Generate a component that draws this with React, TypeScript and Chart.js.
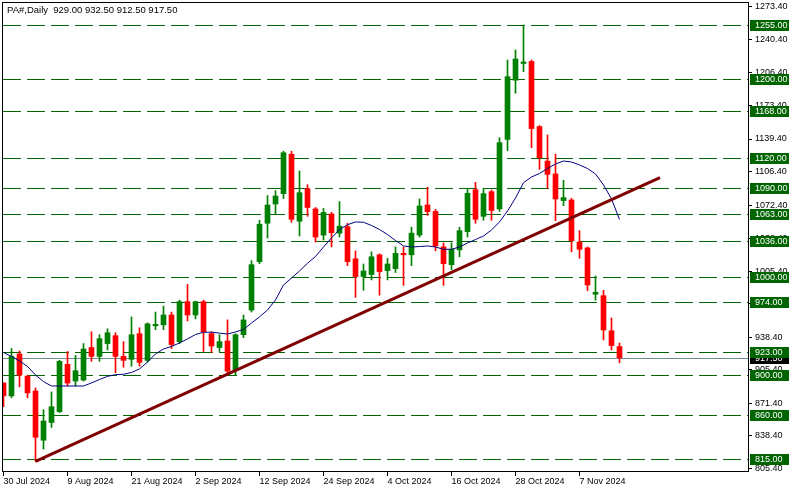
import React, { useEffect, useRef } from 'react';
import { Chart, registerables } from 'chart.js';

Chart.register(...registerables);

// ---- Data (daily candles, 30 Jul 2024 .. 14 Nov 2024) ----
const opens = [892, 879, 921.5, 899, 884, 834, 852, 863, 911, 894,
  895, 928, 919, 932, 940, 919, 916, 942, 915, 950,
  951, 961, 934, 974.5, 961, 974.5, 942, 928, 934.6, 905,
  941, 966, 1015, 1054, 1073.5, 1084, 1124, 1056, 1089, 1068.5,
  1042, 1063.4, 1044, 1050.5, 1018, 1000, 1002, 1022, 1006, 1008,
  1023.5, 1022, 1042, 1072.5, 1066, 1030, 1012, 1027, 1045.5, 1088,
  1061, 1086, 1068.5, 1139, 1199, 1216, 1218, 1152, 1117, 1104,
  1077, 1077.6, 1035, 1029, 982, 980.6, 945, 929];
const highs = [892.5, 927, 924.5, 900, 887, 865, 883, 915, 924, 920,
  932, 944, 941, 947, 943, 934, 959, 948, 953, 964,
  970, 964, 976, 992, 975, 976, 944, 941, 956, 942,
  961, 1016, 1057, 1082, 1087, 1127, 1127, 1107, 1093, 1070,
  1069, 1065, 1076, 1054, 1026, 1012.7, 1025, 1023, 1018.5, 1030,
  1030, 1050, 1078.6, 1090.5, 1068, 1034, 1034, 1050, 1089.5, 1095.5,
  1089.5, 1087.7, 1140.7, 1219.5, 1229.7, 1255, 1219.5, 1153, 1143.5, 1124,
  1097.6, 1079.3, 1046.5, 1030, 1000.5, 986, 958, 932.5];
const lows = [868, 877, 888, 877, 812.5, 825, 847, 862, 889, 889,
  894, 914, 914, 925.5, 902.5, 908, 909, 909, 913, 946,
  946, 927, 932, 955, 957, 924, 923, 924, 902, 900,
  938, 964, 1013, 1039, 1063, 1079, 1055, 1041, 1061, 1035,
  1037, 1030, 1040, 1011, 979, 986, 996.5, 981, 996.5, 1004,
  991, 1011, 1040, 1062, 1026, 991, 1007, 1020, 1040, 1054,
  1057, 1057, 1066, 1127.6, 1185.8, 1207.7, 1130.6, 1108.7, 1089.5, 1056.6,
  1071.8, 1025, 1018.5, 985.6, 976, 935.7, 925.5, 912.5];
const closes = [879, 919, 900, 882, 837, 853.5, 868, 914, 892, 904.5,
  926.5, 919, 937, 943, 919, 915, 941, 913, 952, 951.5,
  961, 931, 974.5, 961, 974.5, 944, 929.5, 934, 904, 941,
  956, 1012, 1053, 1072.5, 1081.6, 1125.5, 1058, 1085, 1070, 1040,
  1065, 1044.4, 1051, 1015, 1000, 1005.6, 1020, 1005, 1012.7, 1023.5,
  1022, 1044, 1071.5, 1065.7, 1031, 1013, 1027.6, 1046.5, 1084.4, 1058,
  1084, 1067, 1135.7, 1202.6, 1220.5, 1217.5, 1150, 1120.5, 1103.6, 1078.6,
  1080, 1036.3, 1027.6, 991.4, 984, 945.8, 930, 917.5];

// moving average line
const maValues = [923.0, 919.0, 914.4, 908.8, 900.2, 893.4, 889.0, 889.0, 889.0, 889.0,
  889.0, 892.1, 895.6, 898.7, 900.5, 900.9, 902.7, 906.3, 913.3, 921.5,
  926.5, 929.1, 932.6, 936.7, 941.2, 943.5, 943.5, 942.6, 941.7, 943.8,
  946.3, 952.9, 959.0, 966.1, 976.2, 991.4, 998.5, 1005.6, 1013.4, 1020.3,
  1029.9, 1039.1, 1047.7, 1052.5, 1055.3, 1055.0, 1051.7, 1047.7, 1042.6, 1036.5,
  1031.0, 1029.9, 1030.4, 1031.0, 1029.9, 1027.6, 1027.6, 1029.9, 1034.0, 1037.5,
  1041.1, 1047.2, 1055.3, 1066.4, 1079.6, 1095.1, 1100.9, 1104.5, 1109.5, 1114.1,
  1117.1, 1116.1, 1113.1, 1109.5, 1104.0, 1092.8, 1078.6, 1057.8];

const xTickIndex = [0, 8, 16, 24, 32, 40, 48, 56, 64, 72];
const xTickLabels = ['30 Jul 2024', '9 Aug 2024', '21 Aug 2024', '2 Sep 2024', '12 Sep 2024',
  '24 Sep 2024', '4 Oct 2024', '16 Oct 2024', '28 Oct 2024', '7 Nov 2024'];
const yTickValues = [1273.4, 1240.4, 1206.4, 1173.4, 1139.4, 1106.4, 1072.4, 1038.4,
  1005.4, 972.4, 938.4, 905.4, 871.4, 838.4, 805.4];
const levels = [1255, 1200, 1168, 1120, 1090, 1063, 1036, 1000, 974, 923, 900, 860, 815];
const trendX = [4, 82.06];
const trendY = [812.5, 1100.3];
const lastPrice = 917.5;
const headerText = 'PA#,Daily  929.00 932.50 912.50 917.50';

const UP = '#008000';
const DOWN = '#ff0000';
const LEVEL = '#006400';
const FONT = '"Liberation Sans", Arial, sans-serif';

export default function App() {
  const ref = useRef<HTMLCanvasElement>(null);

  useEffect(() => {
    document.body.style.margin = '0';
    const idx = opens.map((_, i) => i);
    const colors = idx.map((i) => (closes[i] >= opens[i] ? UP : DOWN));

    const overlay = {
      id: 'overlay',
      beforeDatasetsDraw(chart: any) {
        const { ctx, chartArea } = chart;
        const ys = chart.scales.y;
        ctx.save();
        ctx.beginPath();
        ctx.rect(chartArea.left, chartArea.top, chartArea.right - chartArea.left, chartArea.bottom - chartArea.top);
        ctx.clip();
        ctx.lineWidth = 1;
        // bid line
        const by = Math.round(ys.getPixelForValue(lastPrice)) + 0.5;
        ctx.strokeStyle = '#778899';
        ctx.setLineDash([]);
        ctx.beginPath();
        ctx.moveTo(chartArea.left, by);
        ctx.lineTo(chartArea.right, by);
        ctx.stroke();
        // horizontal levels
        ctx.strokeStyle = LEVEL;
        ctx.setLineDash([18, 6]);
        levels.forEach((lv) => {
          const y = Math.round(ys.getPixelForValue(lv)) + 0.5;
          ctx.beginPath();
          ctx.moveTo(chartArea.left + 1, y);
          ctx.lineTo(chartArea.right, y);
          ctx.stroke();
        });
        ctx.restore();
      },
      afterDraw(chart: any) {
        const { ctx, chartArea } = chart;
        const ys = chart.scales.y;
        ctx.save();
        // frame
        ctx.strokeStyle = '#000';
        ctx.lineWidth = 1;
        ctx.setLineDash([]);
        ctx.strokeRect(chartArea.left + 0.5, chartArea.top + 0.5,
          chartArea.right - chartArea.left, chartArea.bottom - chartArea.top - 1);
        ctx.font = '9px ' + FONT;
        ctx.textBaseline = 'middle';
        ctx.textAlign = 'left';
        // bid label
        const by = Math.round(ys.getPixelForValue(lastPrice));
        ctx.fillStyle = '#000';
        ctx.fillRect(chartArea.right + 2, by - 5, 39, 11);
        ctx.fillStyle = '#fff';
        ctx.fillText(lastPrice.toFixed(2), chartArea.right + 7, by + 0.5);
        // level labels
        levels.forEach((lv) => {
          const y = Math.round(ys.getPixelForValue(lv));
          ctx.fillStyle = LEVEL;
          ctx.fillRect(chartArea.right + 2, y - 5, 39, 11);
          ctx.fillStyle = '#fff';
          ctx.fillText(lv.toFixed(2), chartArea.right + 7, y + 0.5);
        });
        // header
        ctx.font = '9.5px ' + FONT;
        ctx.fillStyle = '#000';
        ctx.fillText(headerText, 7, 10.5);
        ctx.restore();
      },
    };

    const chart = new Chart(ref.current as HTMLCanvasElement, {
      type: 'bar',
      data: {
        datasets: [
          {
            type: 'line',
            data: trendX.map((x, k) => ({ x, y: trendY[k] })),
            borderColor: '#800000',
            borderWidth: 3,
            pointRadius: 0,
            order: 0,
          } as any,
          {
            type: 'line',
            data: maValues.map((y, i) => ({ x: i, y })),
            borderColor: '#000080',
            borderWidth: 1,
            pointRadius: 0,
            tension: 0,
            order: 1,
          } as any,
          {
            type: 'bar',
            data: idx.map((i) => ({ x: i, y: [opens[i], closes[i]] })),
            backgroundColor: colors,
            borderWidth: 0,
            barThickness: 5,
            minBarLength: 1,
            grouped: false,
            order: 2,
          } as any,
          {
            type: 'bar',
            data: idx.map((i) => ({ x: i, y: [lows[i], highs[i]] })),
            backgroundColor: colors,
            borderWidth: 0,
            barThickness: 1,
            minBarLength: 1,
            grouped: false,
            order: 3,
          } as any,
        ],
      },
      options: {
        animation: false,
        responsive: false,
        devicePixelRatio: 1,
        events: [],
        layout: { padding: { left: 2, top: 2, right: 0, bottom: 0 } },
        plugins: { legend: { display: false }, tooltip: { enabled: false } },
        scales: {
          x: {
            type: 'linear',
            min: -0.1875,
            max: 93.0625,
            offset: false,
            afterBuildTicks: (s: any) => { s.ticks = xTickIndex.map((v) => ({ value: v })); },
            afterFit: (s: any) => { s.height = 21; s.paddingLeft = 0; s.paddingRight = 0; },
            grid: { drawOnChartArea: false, drawTicks: true, tickLength: 4, color: '#000', lineWidth: 1, offset: false },
            border: { display: false },
            ticks: {
              autoSkip: false,
              maxRotation: 0,
              minRotation: 0,
              align: 'start',
              padding: 0,
              color: '#000',
              font: { family: FONT, size: 9 },
              callback: (v: any) => {
                const k = xTickIndex.indexOf(Number(v));
                return k >= 0 ? xTickLabels[k] : '';
              },
            },
          },
          y: {
            type: 'linear',
            position: 'right',
            min: 801.8,
            max: 1278.3,
            afterBuildTicks: (s: any) => { s.ticks = yTickValues.map((v) => ({ value: v })); },
            afterFit: (s: any) => { s.width = 41; s.paddingTop = 0; s.paddingBottom = 0; },
            grid: { drawOnChartArea: false, drawTicks: true, tickLength: 4, color: '#000', lineWidth: 1 },
            border: { display: false },
            ticks: {
              padding: 3,
              color: '#000',
              font: { family: FONT, size: 9 },
              callback: (v: any) => Number(v).toFixed(2),
            },
          },
        },
      } as any,
      plugins: [overlay],
    });

    return () => chart.destroy();
  }, []);

  return (
    <div style={{ position: 'fixed', left: 0, top: 0, width: 789, height: 493, background: '#fff' }}>
      <canvas ref={ref} width={789} height={493} style={{ display: 'block' }} />
    </div>
  );
}
